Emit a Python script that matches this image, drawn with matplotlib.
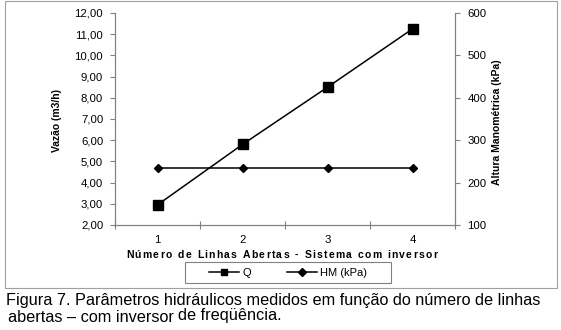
import numpy as np
import matplotlib
matplotlib.use('Agg')
import matplotlib.pyplot as plt
from matplotlib.lines import Line2D
from matplotlib.patches import Rectangle

plt.rcParams['font.family'] = ['Liberation Sans', 'DejaVu Sans']

# data
linhas = [1, 2, 3, 4]
vazao = [2.95, 5.80, 8.50, 11.25]      # Q (m3/h)
hm_kpa = [235, 235, 235, 235]          # HM (kPa)
left_ticks = np.arange(2, 13, 1)
right_ticks = np.arange(100, 601, 100)

W, H = 561, 330
fig = plt.figure(figsize=(W / 100, H / 100), dpi=100)


def fx(px):
    return px / W


def fy(py):
    return 1 - py / H


gray = '#808080'

ax = fig.add_axes([fx(115), fy(225), fx(455) - fx(115), fy(13) - fy(225)])
ax2 = ax.twinx()

ax.plot(linhas, vazao, color='black', lw=1.1, marker='s', ms=6.5, label='Q')
ax2.plot(linhas, hm_kpa, color='black', lw=1.1, marker='D', ms=4.5, label='HM (kPa)')

ax.set_xlim(0.5, 4.5)
ax.set_ylim(2, 12)
ax2.set_ylim(100, 600)
ax.set_yticks(left_ticks)
ax.set_yticklabels([f'{v:.2f}'.replace('.', ',') for v in left_ticks])
ax2.set_yticks(right_ticks)

# category axis: ticks between categories, labels at the categories
ax.set_xticks(np.arange(0.5, 4.6, 1))
ax.set_xticklabels([])
ax.set_xticks(linhas, minor=True)
ax.set_xticklabels([str(v) for v in linhas], minor=True)
ax.tick_params(axis='x', which='major', direction='inout', length=6, color=gray, width=0.8)
ax.tick_params(axis='x', which='minor', length=0, pad=7, labelsize=8.2)
ax.tick_params(axis='y', direction='out', length=3.5, color=gray, width=0.8, labelsize=8.2, pad=5)
ax2.tick_params(axis='y', direction='out', length=3.5, color=gray, width=0.8, labelsize=8.2, pad=5.5)

for a in (ax, ax2):
    a.spines['top'].set_visible(False)
    for s in ('left', 'right', 'bottom'):
        a.spines[s].set_color(gray)
        a.spines[s].set_linewidth(0.8)

fig.text(fx(57.5), fy(120), 'Vazão (m3/h)', rotation=90, ha='center', va='center',
         fontsize=7.5, fontweight='bold')
fig.text(fx(497.5), fy(122), 'Altura Manométrica (kPa)', rotation=90, ha='center', va='center',
         fontsize=7.5, fontweight='bold')

# x label with wide letter spacing, placed char by char
xlabel = 'Número de Linhas Abertas - Sistema com inversor'
renderer = fig.canvas.get_renderer()
widths = []
for ch in xlabel:
    t = fig.text(0, 0, ch if ch != ' ' else 'n', fontsize=7.5, fontweight='bold')
    w = t.get_window_extent(renderer).width
    widths.append(w * 0.55 if ch == ' ' else w)
    t.remove()
target = 311
gap = (target - sum(widths)) / (len(xlabel) - 1)
x = 281.5 - target / 2
for ch, w in zip(xlabel, widths):
    if ch != ' ':
        fig.text(fx(x), fy(255), ch, fontsize=7.5, fontweight='bold', ha='left', va='center')
    x += w + gap

# legend
handles = [Line2D([], [], color='black', lw=1.1, marker='s', ms=5),
           Line2D([], [], color='black', lw=1.1, marker='D', ms=4)]
fig.legend(handles, ['Q', 'HM (kPa)'], loc='center', bbox_to_anchor=(fx(288), fy(272.5)),
           ncol=2, frameon=False, fontsize=8, handlelength=2.7, handletextpad=0.35,
           columnspacing=3.2, borderpad=0)
fig.patches.append(Rectangle((fx(185), fy(283)), fx(391) - fx(185), fy(262) - fy(283),
                             transform=fig.transFigure, fill=False, edgecolor=gray, lw=0.8))

# chart area border
fig.patches.append(Rectangle((fx(5), fy(288)), fx(557) - fx(5), fy(1) - fy(288),
                             transform=fig.transFigure, fill=False, edgecolor='#a0a0a0', lw=0.8))

# caption
fig.text(fx(6), fy(301), 'Figura 7. Parâmetros hidráulicos medidos em função do número de linhas',
         fontsize=11.7, ha='left', va='center')
t2 = fig.text(fx(8), fy(318), 'abertas – com inversor', fontsize=11.7, ha='left', va='center')
plt.annotate('de freqüência.', xy=(1, 0), xycoords=t2, xytext=(3, 1.5),
             textcoords='offset points', fontsize=11.7, ha='left', va='bottom',
             annotation_clip=False)

fig.savefig('out.png', dpi=100)
